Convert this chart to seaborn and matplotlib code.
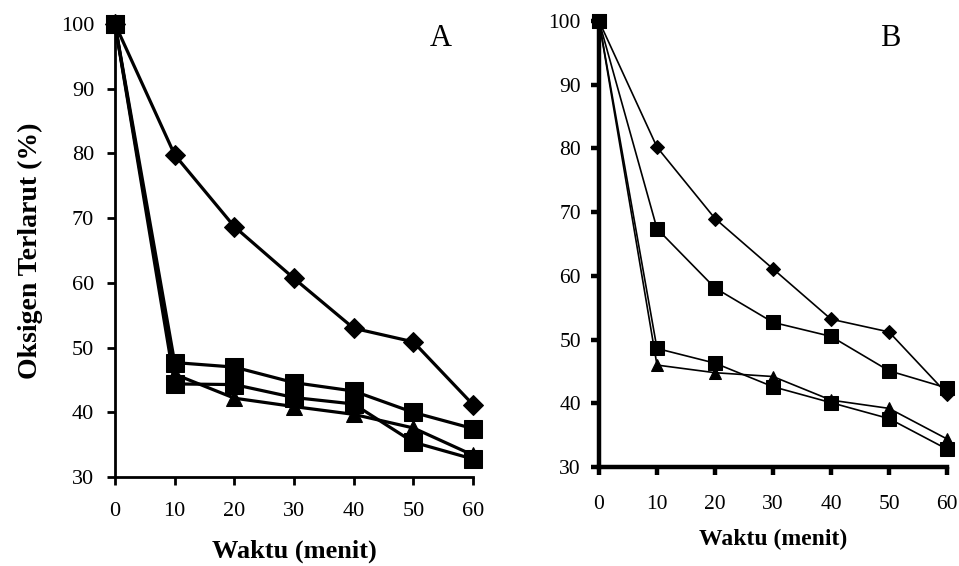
import matplotlib
matplotlib.use("Agg")
import matplotlib.pyplot as plt
import seaborn as sns
import pandas as pd

waktu = [0, 10, 20, 30, 40, 50, 60]

# Panel A
a_diamond = [100, 79.8, 68.7, 60.7, 53.0, 50.9, 41.2]
a_square1 = [100, 47.7, 47.0, 44.6, 43.3, 40.0, 37.5]
a_square2 = [100, 44.4, 44.3, 42.3, 41.3, 35.4, 32.8]
a_triangle = [100, 45.9, 42.2, 40.9, 39.7, 37.6, 33.4]

# Panel B
b_diamond = [100, 80.2, 69.0, 61.1, 53.2, 51.2, 41.5]
b_square1 = [100, 67.4, 58.1, 52.7, 50.5, 45.1, 42.4]
b_square2 = [100, 48.6, 46.3, 42.6, 40.1, 37.6, 32.8]
b_triangle = [100, 46.0, 44.8, 44.2, 40.5, 39.2, 34.4]

yticks = [30, 40, 50, 60, 70, 80, 90, 100]
xticks = [0, 10, 20, 30, 40, 50, 60]

sns.set_style("ticks")
plt.rcParams['font.family'] = ['Liberation Serif', 'DejaVu Serif']
plt.rcParams['text.color'] = 'black'
plt.rcParams['axes.labelcolor'] = 'black'

fig = plt.figure(figsize=(9.59, 5.66), dpi=100)
axA = fig.add_axes([0.1199, 0.157, 0.3733, 0.8006])
axB = fig.add_axes([0.6246, 0.1749, 0.3629, 0.788])

def draw(ax, series, lw, sizes):
    for vals, mk in series:
        sns.lineplot(x=waktu, y=vals, ax=ax, color='black', lw=lw, marker=mk,
                     markersize=sizes[mk], markeredgecolor='black',
                     markerfacecolor='black', clip_on=False)

draw(axA, [(a_diamond, 'D'), (a_triangle, '^'), (a_square2, 's'), (a_square1, 's')],
     2.3, {'D': 10.5, 's': 12.5, '^': 11})
draw(axB, [(b_diamond, 'D'), (b_square1, 's'), (b_triangle, '^'), (b_square2, 's')],
     1.2, {'D': 7, 's': 9.5, '^': 8.5})

for ax, spw, fs, ypad, xpad in [(axA, 2.0, 16, 9, 12), (axB, 3.2, 15.5, 7, 14)]:
    ax.set_xlim(0, 60)
    ax.set_ylim(30, 100)
    ax.set_xticks(xticks)
    ax.set_yticks(yticks)
    for s in ['top', 'right']:
        ax.spines[s].set_visible(False)
    for s in ['left', 'bottom']:
        ax.spines[s].set_linewidth(spw)
        ax.spines[s].set_color('black')
    ax.tick_params(axis='both', direction='out', length=6, width=spw,
                   colors='black', labelcolor='black', labelsize=fs)
    ax.tick_params(axis='y', pad=ypad)
    ax.tick_params(axis='x', pad=xpad)

axA.set_ylabel("Oksigen Terlarut (%)", fontsize=20, fontweight='bold', labelpad=13)
axA.set_xlabel("Waktu (menit)", fontsize=19, fontweight='bold', labelpad=13)
axB.set_xlabel("Waktu (menit)", fontsize=17, fontweight='bold', labelpad=11)
axB.set_ylabel("")

axA.text(0.91, 0.969, "A", transform=axA.transAxes, fontsize=22, ha='center', va='center')
axB.text(0.837, 0.96, "B", transform=axB.transAxes, fontsize=22, ha='center', va='center')

fig.savefig("out.png", dpi=100)
